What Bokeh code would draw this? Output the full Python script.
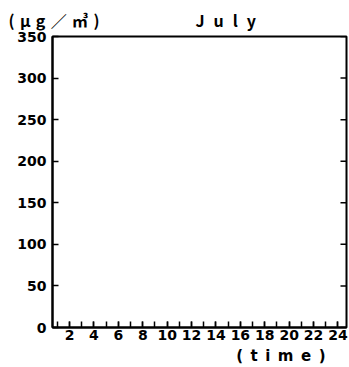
import math
from bokeh.plotting import figure
from bokeh.models import FixedTicker, Title, Range1d
from bokeh.embed import file_html
from bokeh.resources import INLINE

# Data (chart shows empty plotting area)
hours = list(range(1, 25))
labeled_hours = [h for h in hours if h % 2 == 0]
y_ticks = [0, 50, 100, 150, 200, 250, 300, 350]
title_text = "J u l y"
unit_text = "(μ g／㎥)"
xlabel_text = "( t i m e )"

FONT = "DejaVu Sans"
X_MIN, X_MAX = 0.6, 24.7
EN, EM, THREE, HAIR = "\u2002", "\u2003", "\u2004", "\u200a"


def letters(s, sep):
    return sep.join(ch for ch in s if ch != " ")


p = figure(width=349, height=367, output_backend="svg", toolbar_location=None,
           x_range=Range1d(X_MIN, X_MAX), y_range=Range1d(0, 350),
           min_border_left=52, min_border_right=3, min_border_top=35, min_border_bottom=40)
p.grid.visible = False
p.outline_line_color = "black"
p.outline_line_width = 2
p.background_fill_color = "white"
p.border_fill_color = "white"

# x axis
xa = p.xaxis[0]
xa.ticker = FixedTicker(ticks=labeled_hours, minor_ticks=hours)
xa.major_tick_in = 6
xa.major_tick_out = 0
xa.minor_tick_in = 6
xa.minor_tick_out = 0
xa.minor_tick_line_color = "black"
xa.minor_tick_line_width = 1.5
xa.axis_line_width = 2
xa.major_tick_line_width = 1.5
xa.major_label_text_font = FONT
xa.major_label_text_font_size = "14px"
xa.major_label_text_font_style = "bold"
xa.major_label_text_color = "black"
xa.major_label_standoff = 2

# y axis
ya = p.yaxis[0]
ya.ticker = FixedTicker(ticks=y_ticks)
ya.major_tick_in = 6
ya.major_tick_out = 0
ya.minor_tick_line_color = None
ya.axis_line_width = 2
ya.major_tick_line_width = 1.5
ya.major_label_text_font = FONT
ya.major_label_text_font_size = "14px"
ya.major_label_text_font_style = "bold"
ya.major_label_text_color = "black"
ya.major_label_standoff = 6

# inward ticks on the right frame edge
p.ray(x=[X_MAX] * len(y_ticks), y=y_ticks, length=6, length_units="screen",
      angle=math.pi, line_color="black", line_width=1.5)

top_text = letters(unit_text, THREE) + EM * 6 + letters(title_text, EN + HAIR)
p.add_layout(Title(text=top_text, align="left", offset=-44, standoff=10,
                   text_font="Noto Sans CJK JP", text_font_size="16px",
                   text_font_style="bold", text_color="black"), "above")
p.add_layout(Title(text=letters(xlabel_text, EN), align="right", offset=21, standoff=4,
                   text_font=FONT, text_font_size="15px", text_font_style="bold",
                   text_color="black"), "below")

open("out.html", "w").write(file_html(p, INLINE))
